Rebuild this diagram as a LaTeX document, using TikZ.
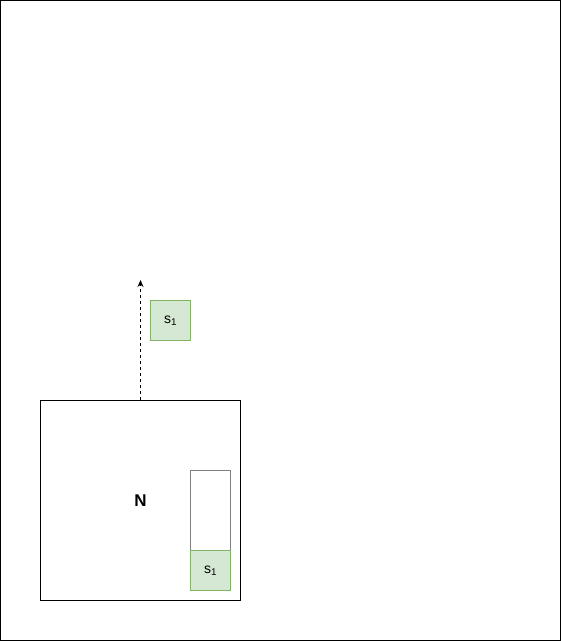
\documentclass[tikz,border=0pt]{standalone}
\usepackage{fontspec}
\setmainfont{Liberation Sans}
\usetikzlibrary{positioning, arrows.meta}

\definecolor{sfill}{HTML}{D5E8D4}
\definecolor{sdraw}{HTML}{82B366}
\definecolor{slot}{HTML}{808080}

\begin{document}
\begin{tikzpicture}[x=1pt, y=-1pt, node distance=0pt]
    \tikzstyle{netbox} = [rectangle, draw, line width=0.8pt, minimum width=200pt, minimum height=200pt, inner sep=0pt]
    \tikzstyle{slotbox} = [rectangle, draw=slot, line width=0.8pt, minimum width=40pt, minimum height=120pt, inner sep=0pt]
    \tikzstyle{sbox} = [rectangle, draw=sdraw, fill=sfill, line width=0.8pt, minimum width=40pt, minimum height=40pt, inner sep=0pt, font=\fontsize{14}{16}\selectfont]
    \tikzstyle{move} = [draw, line width=0.8pt, dashed, -{Stealth[length=7pt, width=6pt]}]

    \useasboundingbox (0,0) rectangle (561,641);
    \draw [line width=0.8pt] (0.5,0.5) rectangle (560.5,640.5);

    \node [netbox] (net) at (140.5,500.5) {};
    \node [font=\fontsize{17}{19}\selectfont\bfseries] (label) at (140.5,500.5) {N};
    \node [slotbox] (slot) at (210.5,530.5) {};
    \node [sbox] (inslot) at (210.5,570.5) {s\textsubscript{1}};
    \node [sbox] (moving) at (170.5,320.5) {s\textsubscript{1}};

    \coordinate (top) at (140.5,280);
    \path [move] (net.north) -- (top);
\end{tikzpicture}
\end{document}
